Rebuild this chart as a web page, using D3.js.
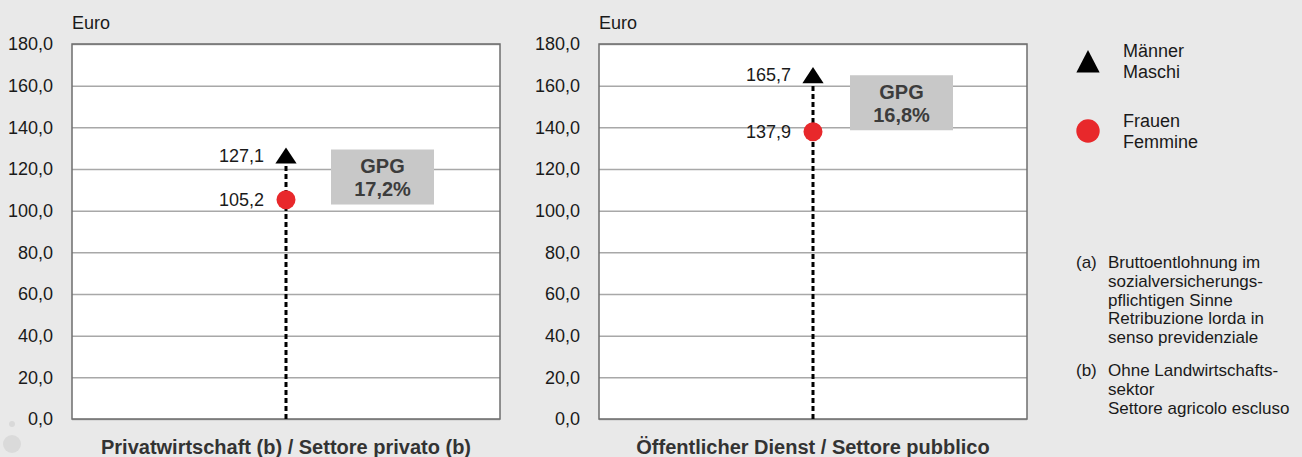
<!DOCTYPE html>
<html>
<head>
<meta charset="utf-8">
<script src="https://cdn.jsdelivr.net/npm/d3@7"></script>
<style>
  body { margin: 0; background: #e9e9e9; }
  svg { display: block; font-family: "Liberation Sans", Arial, sans-serif; }
  .tick text { font-size: 18px; fill: #1a1a1a; }
</style>
</head>
<body>
<svg id="chart" width="1302" height="457"></svg>
<script>
// data
const sectors = ["Privatwirtschaft (b) / Settore privato (b)", "Öffentlicher Dienst / Settore pubblico"];
const men = [127.1, 165.7];
const women = [105.2, 137.9];
const gpg = [17.2, 16.8];
const yTicks = [0, 20, 40, 60, 80, 100, 120, 140, 160, 180];
const legendLabels = [["Männer", "Maschi"], ["Frauen", "Femmine"]];
const notes = [
  ["(a)", ["Bruttoentlohnung im", "sozialversicherungs-", "pflichtigen Sinne", "Retribuzione lorda in", "senso previdenziale"]],
  ["(b)", ["Ohne Landwirtschafts-", "sektor", "Settore agricolo escluso"]]
];

const locale = d3.formatLocale({decimal: ",", thousands: ".", grouping: [3]});
const fmt = locale.format(".1f");

const svg = d3.select("#chart");
const RED = "#e8282b";

// background decoration (bottom left)
svg.append("circle").attr("cx", 12).attr("cy", 424).attr("r", 3).attr("fill", "#d9d9d9");
svg.append("circle").attr("cx", 12).attr("cy", 444).attr("r", 9).attr("fill", "#dadada");

// panel layout: plot left/right edges
const panels = [
  {left: 72, right: 500, boxDx: 45},
  {left: 599, right: 1027, boxDx: 37}
];
const TOP = 44, BOTTOM = 419;

const y = d3.scaleLinear().domain([0, 180]).range([BOTTOM, TOP]);
const tri = d3.symbol(d3.symbolTriangle);

panels.forEach((p, i) => {
  const x = d3.scalePoint().domain([sectors[i]]).range([p.left, p.right]).padding(0.5);
  const g = svg.append("g");

  g.append("rect")
    .attr("x", p.left).attr("y", TOP)
    .attr("width", p.right - p.left).attr("height", BOTTOM - TOP)
    .attr("fill", "#fff");

  const axis = g.append("g")
    .attr("transform", `translate(${p.left},0)`)
    .call(d3.axisLeft(y).tickValues(yTicks).tickFormat(fmt)
      .tickSize(-(p.right - p.left)).tickPadding(19));
  axis.select(".domain").remove();
  axis.selectAll(".tick line").attr("stroke", "#a8a8a8").attr("stroke-width", 1.5);

  g.append("rect")
    .attr("x", p.left).attr("y", TOP)
    .attr("width", p.right - p.left).attr("height", BOTTOM - TOP)
    .attr("fill", "none").attr("stroke", "#6e6e6e").attr("stroke-width", 1.5);

  g.append("text")
    .attr("x", p.left).attr("y", 29)
    .attr("font-size", 18).attr("fill", "#1a1a1a")
    .text("Euro");

  const cx = x(sectors[i]);

  g.append("line")
    .attr("x1", cx).attr("x2", cx)
    .attr("y1", y(0)).attr("y2", y(men[i]) + 4)
    .attr("stroke", "#000").attr("stroke-width", 3)
    .attr("stroke-dasharray", "5,3");

  g.append("path")
    .attr("d", tri.size(195)())
    .attr("transform", `translate(${cx},${y(men[i]) + 4}) scale(1,0.88)`)
    .attr("fill", "#000");

  g.append("circle")
    .attr("cx", cx).attr("cy", y(women[i])).attr("r", 9.5)
    .attr("fill", RED);

  g.append("text")
    .attr("x", cx - 22).attr("y", y(men[i]) + 1)
    .attr("dy", "0.35em")
    .attr("text-anchor", "end").attr("font-size", 18).attr("fill", "#1a1a1a")
    .text(fmt(men[i]));

  g.append("text")
    .attr("x", cx - 22).attr("y", y(women[i]))
    .attr("dy", "0.35em")
    .attr("text-anchor", "end").attr("font-size", 18).attr("fill", "#1a1a1a")
    .text(fmt(women[i]));

  // GPG box
  const mid = y((men[i] + women[i]) / 2);
  const bw = 103, bh = 55;
  g.append("rect")
    .attr("x", cx + p.boxDx).attr("y", mid - bh / 2)
    .attr("width", bw).attr("height", bh)
    .attr("fill", "#c8c8c8");
  g.append("text")
    .attr("x", cx + p.boxDx + bw / 2).attr("y", mid - 4)
    .attr("text-anchor", "middle").attr("font-size", 20).attr("font-weight", "bold")
    .attr("fill", "#3c3c3c")
    .text("GPG");
  g.append("text")
    .attr("x", cx + p.boxDx + bw / 2).attr("y", mid + 19)
    .attr("text-anchor", "middle").attr("font-size", 20).attr("font-weight", "bold")
    .attr("fill", "#3c3c3c")
    .text(fmt(gpg[i]) + "%");

  g.append("text")
    .attr("x", cx).attr("y", 454)
    .attr("text-anchor", "middle").attr("font-size", 20).attr("font-weight", "bold")
    .attr("fill", "#333")
    .text(sectors[i]);
});

// legend
const legend = svg.append("g").attr("transform", "translate(1088,0)");
legend.append("path")
  .attr("d", tri.size(235)())
  .attr("transform", "translate(0,65) scale(1,1.12)")
  .attr("fill", "#000");
legend.append("circle")
  .attr("cx", 0).attr("cy", 131).attr("r", 11.7).attr("fill", RED);

[[51, 72], [121, 142]].forEach((ys, k) => {
  legendLabels[k].forEach((t, j) => {
    legend.append("text")
      .attr("x", 35).attr("y", ys[j]).attr("dy", "0.35em")
      .attr("font-size", 18).attr("fill", "#1a1a1a")
      .text(t);
  });
});

// footnotes
const fn = svg.append("g");
let ny = 262;
notes.forEach(([tag, lines]) => {
  fn.append("text")
    .attr("x", 1076).attr("y", ny).attr("dy", "0.35em")
    .attr("font-size", 17).attr("fill", "#1a1a1a").text(tag);
  lines.forEach((t, j) => {
    fn.append("text")
      .attr("x", 1108).attr("y", ny + j * 18.8).attr("dy", "0.35em")
      .attr("font-size", 17).attr("fill", "#1a1a1a").text(t);
  });
  ny += lines.length * 18.8 + 14;
});
</script>
</body>
</html>
